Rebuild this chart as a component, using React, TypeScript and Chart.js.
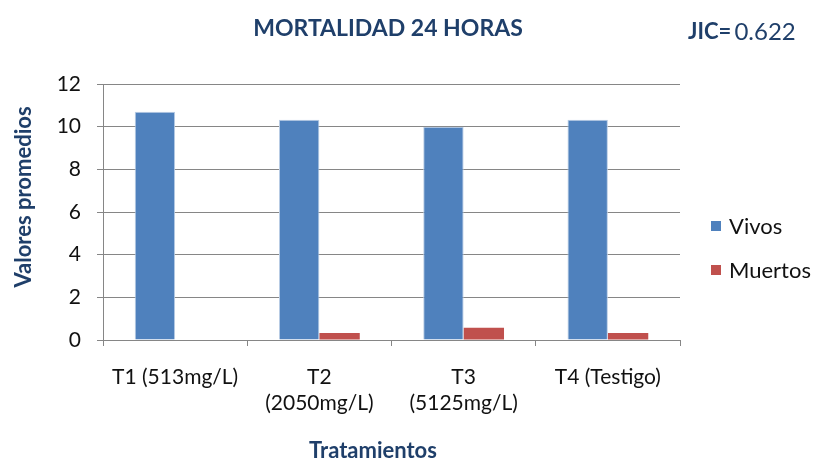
import React, { useEffect, useRef } from "react";
import { Chart, registerables } from "chart.js";

Chart.register(...registerables);

const categories: (string | string[])[] = [
  "T1 (513mg/L)",
  ["T2", "(2050mg/L)"],
  ["T3", "(5125mg/L)"],
  "T4 (Testigo)",
];
const vivos = [10.7, 10.33, 10.0, 10.33];
const muertos = [0, 0.33, 0.58, 0.33];
const yTicks = [0, 2, 4, 6, 8, 10, 12];

const TITLE = "MORTALIDAD 24 HORAS";
const JIC_LABEL = "JIC=";
const JIC_VALUE = " 0.622";
const Y_TITLE = "Valores promedios";
const X_TITLE = "Tratamientos";
const seriesNames = ["Vivos", "Muertos"];
const colors = ["#4F81BD", "#C0504D"];
const NAVY = "#1F3F6A";
const FONT = "Lato, 'Open Sans', sans-serif";

const extrasPlugin = {
  id: "extras",
  afterDraw(chart: any) {
    const ctx = chart.ctx;
    ctx.save();
    ctx.fillStyle = NAVY;
    ctx.textBaseline = "middle";
    ctx.textAlign = "center";
    ctx.font = `bold 23px ${FONT}`;
    ctx.fillText(TITLE, 388, 29);
    // JIC
    ctx.textAlign = "left";
    ctx.font = `bold 22px ${FONT}`;
    ctx.fillText(JIC_LABEL, 688, 32);
    const w = ctx.measureText(JIC_LABEL).width;
    ctx.font = `24px ${FONT}`;
    ctx.fillText(JIC_VALUE, 688 + w - 3, 32);
    // x title
    ctx.textAlign = "center";
    ctx.font = `bold 22px ${FONT}`;
    ctx.fillText(X_TITLE, 373, 451);
    // y title
    ctx.save();
    ctx.translate(24, 197);
    ctx.rotate(-Math.PI / 2);
    ctx.fillText(Y_TITLE, 0, 0);
    ctx.restore();
    // legend
    const ly = [226, 270];
    ctx.font = `22px ${FONT}`;
    ctx.textAlign = "left";
    seriesNames.forEach((n, i) => {
      ctx.fillStyle = colors[i];
      ctx.fillRect(711, ly[i] - 5, 10, 10);
      ctx.fillStyle = "#111";
      ctx.fillText(n, 729, ly[i] + 1);
    });
    ctx.restore();
  },
};

export default function App() {
  const ref = useRef<HTMLCanvasElement>(null);
  useEffect(() => {
    const chart = new Chart(ref.current!, {
      type: "bar",
      data: {
        labels: categories,
        datasets: [
          {
            label: seriesNames[0],
            data: vivos,
            backgroundColor: colors[0],
            borderColor: "#B9CDE5",
            borderWidth: { top: 1, left: 1, right: 1, bottom: 0 },
            categoryPercentage: 0.56,
            barPercentage: 1,
          },
          {
            label: seriesNames[1],
            data: muertos,
            backgroundColor: colors[1],
            categoryPercentage: 0.56,
            barPercentage: 1,
          },
        ],
      },
      options: {
        animation: false,
        responsive: false,
        maintainAspectRatio: false,
        layout: { padding: { top: 84, right: 136, left: 0, bottom: 0 } },
        plugins: {
          legend: { display: false },
          tooltip: { enabled: false },
        },
        scales: {
          x: {
            grid: {
              display: true,
              drawOnChartArea: false,
              color: "#868686",
              tickLength: 6,
              offset: true,
            },
            border: { color: "#868686", width: 1 },
            ticks: {
              color: "#111",
              font: { family: FONT, size: 21, lineHeight: 1.25 },
              padding: 18,
              maxRotation: 0,
              autoSkip: false,
            },
            afterFit(scale: any) {
              scale.height = 123;
            },
          },
          y: {
            min: 0,
            max: 12,
            afterBuildTicks(scale: any) {
              scale.ticks = yTicks.map((v) => ({ value: v }));
            },
            grid: { color: "#868686", tickLength: 6 },
            border: { color: "#868686", width: 1 },
            ticks: {
              color: "#111",
              font: { family: FONT, size: 21 },
              padding: 16,
            },
            afterFit(scale: any) {
              scale.width = 103;
            },
          },
        },
      },
      plugins: [extrasPlugin],
    });
    return () => chart.destroy();
  }, []);
  return (
    <div style={{ position: "absolute", left: 0, top: 0, width: 816, height: 463, background: "#fff" }}>
      <canvas ref={ref} width={816} height={463} style={{ width: 816, height: 463 }} />
    </div>
  );
}
